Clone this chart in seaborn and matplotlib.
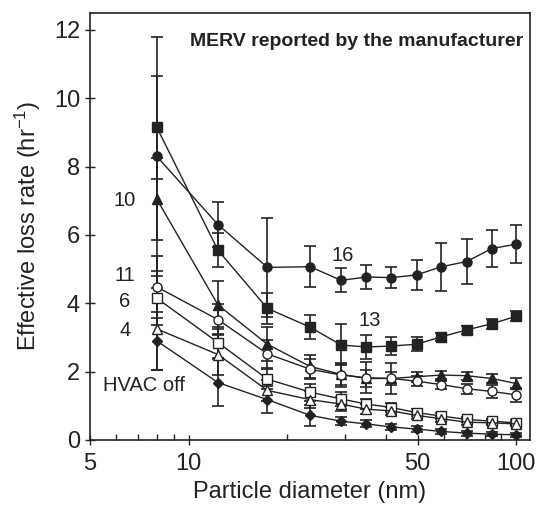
import numpy as np
import pandas as pd
import matplotlib
matplotlib.use("Agg")
import matplotlib.pyplot as plt
import seaborn as sns
from matplotlib.ticker import FixedLocator, NullFormatter

diam = [8.0, 12.3, 17.4, 23.5, 29.2, 34.9, 41.6, 49.6, 59.1, 70.5, 84.1, 100.0]

merv16 = [8.3, 6.3, 5.05, 5.07, 4.67, 4.77, 4.75, 4.83, 5.07, 5.22, 5.6, 5.73]
merv16_err = [3.5, 0.65, 1.45, 0.6, 0.35, 0.35, 0.3, 0.45, 0.7, 0.65, 0.55, 0.55]
merv13 = [9.15, 5.55, 3.85, 3.3, 2.78, 2.72, 2.75, 2.8, 3.02, 3.22, 3.4, 3.62]
merv13_err = [1.5, 0.5, 0.45, 0.35, 0.6, 0.35, 0.25, 0.2, 0.12, 0.12, 0.15, 0.15]
merv10 = [7.05, 3.95, 2.8, 2.15, 1.92, 1.8, 1.8, 1.85, 1.9, 1.88, 1.8, 1.65]
merv10_err = [1.2, 0.7, 0.5, 0.35, 0.3, 0.25, 0.2, 0.15, 0.12, 0.12, 0.12, 0.15]
merv11 = [4.48, 3.52, 2.52, 2.07, 1.9, 1.82, 1.8, 1.72, 1.62, 1.5, 1.42, 1.32]
merv11_err = [0.9, 0.45, 0.4, 0.3, 0.35, 0.45, 0.45, 0.15, 0.12, 0.15, 0.2, 0.2]
merv6 = [4.15, 2.85, 1.78, 1.4, 1.2, 1.05, 0.95, 0.8, 0.7, 0.6, 0.55, 0.5]
merv6_err = [0.8, 0.45, 0.3, 0.25, 0.2, 0.15, 0.12, 0.1, 0.08, 0.08, 0.07, 0.07]
merv4 = [3.25, 2.5, 1.45, 1.18, 1.05, 0.9, 0.85, 0.72, 0.62, 0.52, 0.5, 0.47]
merv4_err = [1.2, 0.6, 0.3, 0.25, 0.2, 0.15, 0.12, 0.1, 0.08, 0.08, 0.07, 0.07]
hvac_off = [2.9, 1.68, 1.18, 0.72, 0.55, 0.47, 0.38, 0.32, 0.25, 0.2, 0.17, 0.15]
hvac_off_err = [0.85, 0.68, 0.4, 0.3, 0.12, 0.1, 0.1, 0.08, 0.08, 0.07, 0.06, 0.06]

series_names = ["16", "13", "10", "11", "6", "4", "HVAC off"]
series_vals = [merv16, merv13, merv10, merv11, merv6, merv4, hvac_off]
series_errs = [merv16_err, merv13_err, merv10_err, merv11_err, merv6_err, merv4_err, hvac_off_err]
series_markers = ["o", "s", "^", "o", "s", "^", "D"]
series_filled = [True, True, True, False, False, False, True]

label_text = ["16", "13", "10", "11", "6", "4", "HVAC off"]
label_x = [29.6, 35.6, 6.4, 6.4, 6.4, 6.4, 7.3]
label_y = [5.4, 3.5, 7.0, 4.8, 4.05, 3.2, 1.6]

sns.set_theme(style="ticks")
plt.rcParams['font.family'] = ['Liberation Sans', 'DejaVu Sans']
plt.rcParams['mathtext.fontset'] = 'custom'
plt.rcParams['mathtext.rm'] = 'Liberation Sans'
plt.rcParams['mathtext.it'] = 'Liberation Sans:italic'
plt.rcParams['mathtext.bf'] = 'Liberation Sans:bold'

fig = plt.figure(figsize=(5.38, 5.11), dpi=100)
ax = fig.add_axes([0.167, 0.139, 0.818, 0.836])

rows = []
for name, vals, errs in zip(series_names, series_vals, series_errs):
    for d, v, e in zip(diam, vals, errs):
        rows.append({"diam": d, "rate": v, "err": e, "series": name})
df = pd.DataFrame(rows)

for name in series_names:
    sub = df[df["series"] == name]
    ax.errorbar(sub["diam"], sub["rate"], yerr=sub["err"], fmt="none",
                ecolor="#222222", elinewidth=1.2, capsize=4, capthick=1.2, zorder=2)

for name, mk, filled in zip(series_names, series_markers, series_filled):
    sub = df[df["series"] == name]
    ms = 6.5 if mk != "D" else 5.5
    sns.lineplot(data=sub, x="diam", y="rate", ax=ax, color="#222222",
                 marker=mk, markersize=ms, linewidth=1.0,
                 markerfacecolor=("#222222" if filled else "white"),
                 markeredgecolor="#222222", markeredgewidth=1.0,
                 errorbar=None, legend=False, zorder=3)

for t, x, y in zip(label_text, label_x, label_y):
    ax.text(x, y, t, fontsize=14.5, ha="center", va="center", color="#222222")

ax.text(0.985, 0.932, "MERV reported by the manufacturer", transform=ax.transAxes,
        fontsize=14, fontweight="bold", ha="right", va="center", color="#222222")

ax.set_xscale("log")
ax.set_xlim(5, 110)
ax.set_ylim(0, 12.5)
ax.xaxis.set_major_locator(FixedLocator([5, 10, 50, 100]))
ax.set_xticklabels(["5", "10", "50", "100"])
ax.xaxis.set_minor_locator(FixedLocator([6, 7, 8, 9, 20, 30, 40, 60, 70, 80, 90]))
ax.xaxis.set_minor_formatter(NullFormatter())
ax.set_yticks([0, 2, 4, 6, 8, 10, 12])

ax.tick_params(axis="both", which="major", labelsize=17, colors="#222222",
               direction="inout", length=7, width=1)
ax.tick_params(axis="x", which="major", pad=6)
ax.tick_params(axis="x", which="minor", direction="in", length=4, width=1)
for sp in ax.spines.values():
    sp.set_color("#222222")
    sp.set_linewidth(1.2)

ax.set_xlabel("Particle diameter (nm)", fontsize=17, color="#222222", labelpad=4)
ax.set_ylabel("Effective loss rate (hr$^{-1}$)", fontsize=17, color="#222222", labelpad=8)

fig.savefig("out.png", dpi=100)
